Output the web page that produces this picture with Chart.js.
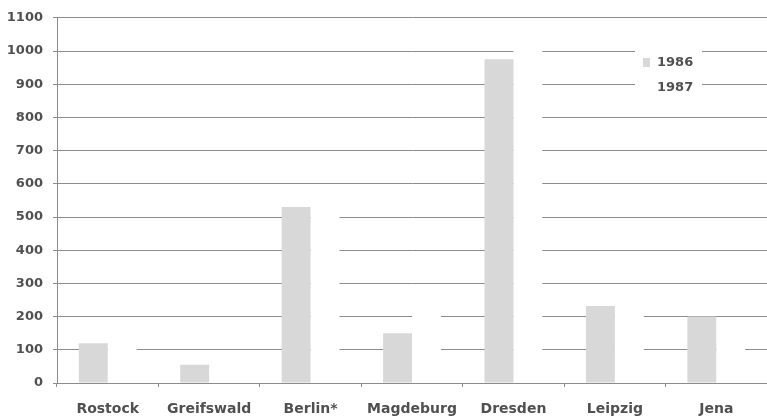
<!DOCTYPE html>
<html>
<head>
<meta charset="utf-8">
<script src="https://cdn.jsdelivr.net/npm/chart.js@4/dist/chart.umd.min.js"></script>
<style>
  html, body { margin: 0; padding: 0; background: #fff; }
  #wrap { width: 767px; height: 418px; position: relative; }
</style>
</head>
<body>
<div id="wrap"><canvas id="c" width="767" height="418"></canvas></div>
<script>
// Cities and yearly counts
const cities = ['Rostock', 'Greifswald', 'Berlin*', 'Magdeburg', 'Dresden', 'Leipzig', 'Jena'];
const values1986 = [120, 55, 530, 150, 975, 232, 200];
const values1987 = [140, 60, 560, 230, 1040, 250, 170];
const yearLabels = ['1986', '1987'];
const yTicks = [0, 100, 200, 300, 400, 500, 600, 700, 800, 900, 1000, 1100];

const textColor = '#505050';
const lineColor = '#8c8c8c';
const fontFamily = '"DejaVu Sans", Arial, sans-serif';

// Legend box drawn inside the plot, on a white panel
const insideLegend = {
  id: 'insideLegend',
  afterDatasetsDraw(chart) {
    const ctx = chart.ctx;
    ctx.save();
    ctx.fillStyle = '#ffffff';
    ctx.fillRect(635, 43, 67, 55);
    ctx.font = 'bold 13px ' + fontFamily;
    ctx.textBaseline = 'middle';
    ctx.textAlign = 'left';
    chart.data.datasets.forEach((ds, i) => {
      const y = 62 + i * 25;
      ctx.fillStyle = ds.backgroundColor;
      ctx.fillRect(643, y - 4, 7, 9);
      ctx.fillStyle = textColor;
      ctx.fillText(ds.label, 657, y + 1);
    });
    ctx.restore();
  }
};

new Chart(document.getElementById('c'), {
  type: 'bar',
  data: {
    labels: cities,
    datasets: [
      { label: yearLabels[0], data: values1986, backgroundColor: '#d8d8d8', borderWidth: 0 },
      { label: yearLabels[1], data: values1987, backgroundColor: '#ffffff', borderWidth: 0 }
    ]
  },
  options: {
    responsive: false,
    animation: false,
    devicePixelRatio: 1,
    layout: { padding: { top: 10, right: 0, left: 0, bottom: 0 } },
    datasets: { bar: { categoryPercentage: 0.57, barPercentage: 1.0 } },
    plugins: {
      legend: { display: false },
      tooltip: { enabled: false }
    },
    scales: {
      x: {
        z: 1,
        offset: true,
        grid: { display: true, drawOnChartArea: false, drawTicks: true, tickLength: 4, color: lineColor, offset: true },
        border: { display: true, color: lineColor, width: 1 },
        ticks: { color: textColor, font: { family: fontFamily, size: 14, weight: 'bold' }, padding: 14, maxRotation: 0, autoSkip: false },
        afterFit(s) { s.height = 35; }
      },
      y: {
        min: 0,
        max: 1100,
        afterBuildTicks(s) { s.ticks = yTicks.map(v => ({ value: v })); },
        grid: { color: lineColor, lineWidth: 1, tickLength: 4 },
        border: { display: true, color: lineColor, width: 1 },
        ticks: {
          color: textColor,
          font: { family: fontFamily, size: 13, weight: 'bold' },
          padding: 10,
          callback: v => String(v)
        },
        afterFit(s) { s.width = 57; }
      }
    }
  },
  plugins: [insideLegend]
});
</script>
</body>
</html>
